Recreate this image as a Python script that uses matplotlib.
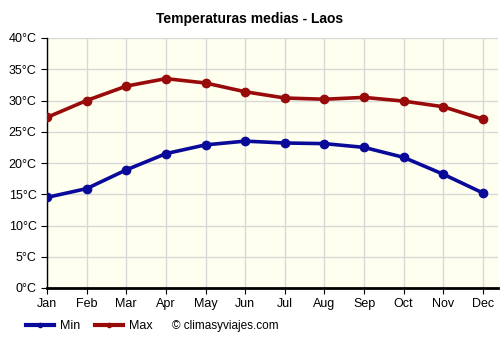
import matplotlib
matplotlib.use('Agg')
import matplotlib.pyplot as plt
from matplotlib.lines import Line2D

plt.rcParams['font.family'] = ['Liberation Sans', 'DejaVu Sans']

months = ['Jan', 'Feb', 'Mar', 'Apr', 'May', 'Jun', 'Jul', 'Aug', 'Sep', 'Oct', 'Nov', 'Dec']
temp_min = [14.5, 15.9, 18.9, 21.5, 22.9, 23.5, 23.2, 23.1, 22.5, 20.9, 18.2, 15.2]
temp_max = [27.3, 30.0, 32.3, 33.5, 32.8, 31.4, 30.4, 30.2, 30.5, 29.9, 29.0, 27.0]
y_ticks = [0, 5, 10, 15, 20, 25, 30, 35, 40]

fig = plt.figure(figsize=(5, 3.5), dpi=100)
# plot area: x 47..498 px, y 38..288 px
ax = fig.add_axes([47/500, 1 - 288/350, 451/500, 250/350])
ax.set_facecolor('#fffff0')

x = list(range(len(months)))
ax.plot(x, temp_min, color='#0a0a9a', linewidth=2.6, marker='o', markersize=6, zorder=3)
ax.plot(x, temp_max, color='#990a0a', linewidth=2.6, marker='o', markersize=6, zorder=3)

ax.set_xlim(0, 11.38)
ax.set_ylim(0, 40)
ax.set_xticks(x)
ax.set_xticklabels(months)
ax.set_yticks(y_ticks)
ax.set_yticklabels([f'{v}°C' for v in y_ticks])
ax.grid(True, color='#d8d8d8', linewidth=1)
ax.set_axisbelow(True)
for side in ['top', 'right']:
    ax.spines[side].set_visible(False)
ax.spines['left'].set_linewidth(1)
ax.spines['bottom'].set_linewidth(2)
ax.tick_params(axis='both', labelsize=9, length=4, colors='black')

fig.text(0.5, 1 - 19/350, 'Temperaturas medias - Laos', ha='center', va='center',
         fontsize=10, fontweight='bold')

handles = [Line2D([0], [0], color='#0a0a9a', linewidth=3, marker='o', markersize=3),
           Line2D([0], [0], color='#990a0a', linewidth=3, marker='o', markersize=3)]
fig.legend(handles, ['Min', 'Max'], loc='center left', bbox_to_anchor=(15/500, 1 - 326/350),
           ncol=2, frameon=False, fontsize=9, handlelength=2.2, columnspacing=1.2,
           handletextpad=0.5)
fig.text(172/500, 1 - 326/350, '© climasyviajes.com', ha='left', va='center', fontsize=8.5)

fig.savefig('out.png', dpi=100)
